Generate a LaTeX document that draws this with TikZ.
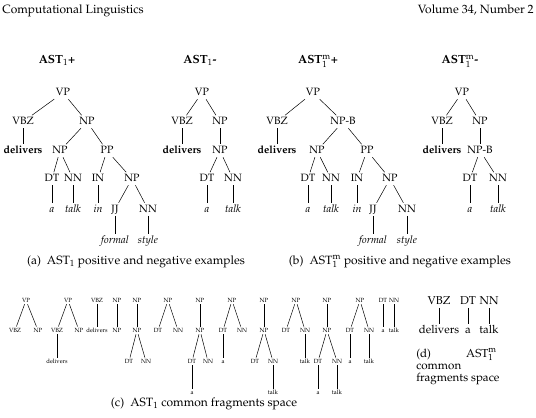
\documentclass[tikz,border=0pt]{standalone}
\usepackage[T1]{fontenc}
\usepackage{mathpazo}

\begin{document}
\begin{tikzpicture}[x = 1pt, y = -1pt,
  every node/.style = {inner sep = 1.5pt, anchor = base},
  cat/.style = {font = \fontsize{10.6}{12}\selectfont, text height = 7.5pt, text depth = 2pt},
  wrd/.style = {cat, font = \fontsize{10.6}{12}\selectfont\itshape},
  bwrd/.style = {cat, font = \fontsize{10.6}{12}\selectfont\bfseries},
  ttl/.style = {font = \fontsize{11.8}{13}\selectfont\bfseries},
  captext/.style = {font = \fontsize{12}{13}\selectfont},
  frag/.style = {font = \fontsize{6}{7}\selectfont, inner sep = 1pt, text height = 4.2pt, text depth = 1pt},
  bigcat/.style = {cat, font = \fontsize{11.4}{12}\selectfont},
  every path/.style = {line width = 0.5pt}]
\useasboundingbox (0, 0) rectangle (536, 418);

% running head
\node[anchor = base west, font = \fontsize{12}{13}\selectfont, inner sep = 0pt] (head-l) at (2, 13) {Computational Linguistics};
\node[anchor = base east, font = \fontsize{12}{13}\selectfont, inner sep = 0pt] (head-r) at (534, 13) {Volume 34, Number 2};

% (a) AST1 +
\node[ttl] (ap-title) at (57, 63.5) {AST$_1$+};
\node[cat] (ap-vp) at (63, 95.5) {VP};
\node[cat] (ap-vbz) at (23, 124.5) {VBZ};
\node[cat] (ap-np) at (87, 124.5) {NP};
\node[bwrd] (ap-del) at (23, 153.5) {delivers};
\node[cat] (ap-np2) at (60, 153.5) {NP};
\node[cat] (ap-pp) at (107, 153.5) {PP};
\node[cat] (ap-dt) at (52, 181.5) {DT};
\node[cat] (ap-nn) at (73, 181.5) {NN};
\node[cat] (ap-in) at (98, 181.5) {IN};
\node[cat] (ap-np3) at (132, 181.5) {NP};
\node[wrd] (ap-a) at (52, 212) {a};
\node[wrd] (ap-talk) at (73, 212) {talk};
\node[wrd] (ap-inw) at (98, 212) {in};
\node[cat] (ap-jj) at (115, 212) {JJ};
\node[cat] (ap-nn2) at (148, 212) {NN};
\node[wrd] (ap-formal) at (115, 243) {formal};
\node[wrd] (ap-style) at (148, 243) {style};
\draw (ap-vp) -- (ap-vbz);
\draw (ap-vp) -- (ap-np);
\draw (ap-vbz) -- (ap-del);
\draw (ap-np) -- (ap-np2);
\draw (ap-np) -- (ap-pp);
\draw (ap-np2) -- (ap-dt);
\draw (ap-np2) -- (ap-nn);
\draw (ap-pp) -- (ap-in);
\draw (ap-pp) -- (ap-np3);
\draw (ap-dt) -- (ap-a);
\draw (ap-nn) -- (ap-talk);
\draw (ap-in) -- (ap-inw);
\draw (ap-np3) -- (ap-jj);
\draw (ap-np3) -- (ap-nn2);
\draw (ap-jj) -- (ap-formal);
\draw (ap-nn2) -- (ap-style);

% (a) AST1 -
\node[ttl] (an-title) at (200, 63.5) {AST$_1$-};
\node[cat] (an-vp) at (202, 95.5) {VP};
\node[cat] (an-vbz) at (182, 124.5) {VBZ};
\node[cat] (an-np) at (220, 124.5) {NP};
\node[bwrd] (an-del) at (182, 153.5) {delivers};
\node[cat] (an-np2) at (220, 153.5) {NP};
\node[cat] (an-dt) at (207, 181.5) {DT};
\node[cat] (an-nn) at (233, 181.5) {NN};
\node[wrd] (an-a) at (207, 212) {a};
\node[wrd] (an-talk) at (233, 212) {talk};
\draw (an-vp) -- (an-vbz);
\draw (an-vp) -- (an-np);
\draw (an-vbz) -- (an-del);
\draw (an-np) -- (an-np2);
\draw (an-np2) -- (an-dt);
\draw (an-np2) -- (an-nn);
\draw (an-dt) -- (an-a);
\draw (an-nn) -- (an-talk);

% (b) AST1m +
\node[ttl] (bp-title) at (318, 63.5) {AST$^{\mathrm{m}}_1$+};
\node[cat] (bp-vp) at (313, 95.5) {VP};
\node[cat] (bp-vbz) at (277, 124.5) {VBZ};
\node[cat] (bp-npb) at (343, 124.5) {NP-B};
\node[bwrd] (bp-del) at (277, 153.5) {delivers};
\node[cat] (bp-np2) at (317, 153.5) {NP};
\node[cat] (bp-pp) at (367, 153.5) {PP};
\node[cat] (bp-dt) at (308, 181.5) {DT};
\node[cat] (bp-nn) at (331, 181.5) {NN};
\node[cat] (bp-in) at (357, 181.5) {IN};
\node[cat] (bp-np3) at (390, 181.5) {NP};
\node[wrd] (bp-a) at (308, 212) {a};
\node[wrd] (bp-talk) at (331, 212) {talk};
\node[wrd] (bp-inw) at (357, 212) {in};
\node[cat] (bp-jj) at (373, 212) {JJ};
\node[cat] (bp-nn2) at (407, 212) {NN};
\node[wrd] (bp-formal) at (373, 243) {formal};
\node[wrd] (bp-style) at (407, 243) {style};
\draw (bp-vp) -- (bp-vbz);
\draw (bp-vp) -- (bp-npb);
\draw (bp-vbz) -- (bp-del);
\draw (bp-npb) -- (bp-np2);
\draw (bp-npb) -- (bp-pp);
\draw (bp-np2) -- (bp-dt);
\draw (bp-np2) -- (bp-nn);
\draw (bp-pp) -- (bp-in);
\draw (bp-pp) -- (bp-np3);
\draw (bp-dt) -- (bp-a);
\draw (bp-nn) -- (bp-talk);
\draw (bp-in) -- (bp-inw);
\draw (bp-np3) -- (bp-jj);
\draw (bp-np3) -- (bp-nn2);
\draw (bp-jj) -- (bp-formal);
\draw (bp-nn2) -- (bp-style);

% (b) AST1m -
\node[ttl] (bn-title) at (460, 63.5) {AST$^{\mathrm{m}}_1$-};
\node[cat] (bn-vp) at (462, 95.5) {VP};
\node[cat] (bn-vbz) at (442, 124.5) {VBZ};
\node[cat] (bn-np) at (480, 124.5) {NP};
\node[bwrd] (bn-del) at (442, 153.5) {delivers};
\node[cat] (bn-npb) at (480, 153.5) {NP-B};
\node[cat] (bn-dt) at (470, 181.5) {DT};
\node[cat] (bn-nn) at (498, 181.5) {NN};
\node[wrd] (bn-a) at (470, 212) {a};
\node[wrd] (bn-talk) at (498, 212) {talk};
\draw (bn-vp) -- (bn-vbz);
\draw (bn-vp) -- (bn-np);
\draw (bn-vbz) -- (bn-del);
\draw (bn-np) -- (bn-npb);
\draw (bn-npb) -- (bn-dt);
\draw (bn-npb) -- (bn-nn);
\draw (bn-dt) -- (bn-a);
\draw (bn-nn) -- (bn-talk);

\node[captext] (cap-a) at (136, 264) {(a)\enspace AST$_1$ positive and negative examples};
\node[captext] (cap-b) at (400, 264) {(b)\enspace AST$^{\mathrm{m}}_1$ positive and negative examples};

% (c) fragments
\node[frag] (c1-vp) at (26, 302) {VP};
\node[frag] (c1-vbz) at (15, 332) {VBZ};
\node[frag] (c1-np) at (38, 332) {NP};
\draw (c1-vp) -- (c1-vbz);
\draw (c1-vp) -- (c1-np);

\node[frag] (c2-vp) at (68, 302) {VP};
\node[frag] (c2-vbz) at (57, 332) {VBZ};
\node[frag] (c2-np) at (79, 332) {NP};
\node[frag] (c2-del) at (57, 363) {delivers};
\draw (c2-vp) -- (c2-vbz);
\draw (c2-vp) -- (c2-np);
\draw (c2-vbz) -- (c2-del);

\node[frag] (c3-vbz) at (97, 302) {VBZ};
\node[frag] (c3-del) at (97, 332) {delivers};
\draw (c3-vbz) -- (c3-del);

\node[frag] (c4-np) at (117, 302) {NP};
\node[frag] (c4-np2) at (117, 332) {NP};
\draw (c4-np) -- (c4-np2);

\node[frag] (c5-np) at (137, 302) {NP};
\node[frag] (c5-np2) at (137, 332) {NP};
\node[frag] (c5-dt) at (129, 363) {DT};
\node[frag] (c5-nn) at (146, 363) {NN};
\draw (c5-np) -- (c5-np2);
\draw (c5-np2) -- (c5-dt);
\draw (c5-np2) -- (c5-nn);

\node[frag] (c6-np) at (168, 302) {NP};
\node[frag] (c6-dt) at (158, 332) {DT};
\node[frag] (c6-nn) at (178, 332) {NN};
\draw (c6-np) -- (c6-dt);
\draw (c6-np) -- (c6-nn);

\node[frag] (c7-np) at (200, 302) {NP};
\node[frag] (c7-np2) at (200, 332) {NP};
\node[frag] (c7-dt) at (192, 363) {DT};
\node[frag] (c7-nn) at (208, 363) {NN};
\node[frag] (c7-a) at (192, 394) {a};
\draw (c7-np) -- (c7-np2);
\draw (c7-np2) -- (c7-dt);
\draw (c7-np2) -- (c7-nn);
\draw (c7-dt) -- (c7-a);

\node[frag] (c8-np) at (232, 302) {NP};
\node[frag] (c8-dt) at (223, 332) {DT};
\node[frag] (c8-nn) at (242, 332) {NN};
\node[frag] (c8-a) at (223, 363) {a};
\draw (c8-np) -- (c8-dt);
\draw (c8-np) -- (c8-nn);
\draw (c8-dt) -- (c8-a);

\node[frag] (c9-np) at (264, 302) {NP};
\node[frag] (c9-np2) at (264, 332) {NP};
\node[frag] (c9-dt) at (255, 363) {DT};
\node[frag] (c9-nn) at (273, 363) {NN};
\node[frag] (c9-talk) at (273, 394) {talk};
\draw (c9-np) -- (c9-np2);
\draw (c9-np2) -- (c9-dt);
\draw (c9-np2) -- (c9-nn);
\draw (c9-nn) -- (c9-talk);

\node[frag] (c10-np) at (296, 302) {NP};
\node[frag] (c10-dt) at (286, 332) {DT};
\node[frag] (c10-nn) at (305, 332) {NN};
\node[frag] (c10-talk) at (305, 363) {talk};
\draw (c10-np) -- (c10-dt);
\draw (c10-np) -- (c10-nn);
\draw (c10-nn) -- (c10-talk);

\node[frag] (c11-np) at (327, 302) {NP};
\node[frag] (c11-np2) at (327, 332) {NP};
\node[frag] (c11-dt) at (318, 363) {DT};
\node[frag] (c11-nn) at (337, 363) {NN};
\node[frag] (c11-a) at (318, 394) {a};
\node[frag] (c11-talk) at (337, 394) {talk};
\draw (c11-np) -- (c11-np2);
\draw (c11-np2) -- (c11-dt);
\draw (c11-np2) -- (c11-nn);
\draw (c11-dt) -- (c11-a);
\draw (c11-nn) -- (c11-talk);

\node[frag] (c12-np) at (360, 302) {NP};
\node[frag] (c12-dt) at (350, 332) {DT};
\node[frag] (c12-nn) at (369, 332) {NN};
\node[frag] (c12-a) at (350, 363) {a};
\node[frag] (c12-talk) at (369, 363) {talk};
\draw (c12-np) -- (c12-dt);
\draw (c12-np) -- (c12-nn);
\draw (c12-dt) -- (c12-a);
\draw (c12-nn) -- (c12-talk);

\node[frag] (c13-dt) at (383, 302) {DT};
\node[frag] (c13-nn) at (394, 302) {NN};
\node[frag] (c13-a) at (383, 332) {a};
\node[frag] (c13-talk) at (394, 332) {talk};
\draw (c13-dt) -- (c13-a);
\draw (c13-nn) -- (c13-talk);

\node[captext] (cap-c) at (204, 406) {(c)\enspace AST$_1$ common fragments space};

% (d) fragments
\node[bigcat] (d-vbz) at (439, 304) {VBZ};
\node[bigcat] (d-dt) at (468, 304) {DT};
\node[bigcat] (d-nn) at (489, 304) {NN};
\node[bigcat] (d-del) at (439, 333) {delivers};
\node[bigcat] (d-a) at (468, 333) {a};
\node[bigcat] (d-talk) at (489, 333) {talk};
\draw (d-vbz) -- (d-del);
\draw (d-dt) -- (d-a);
\draw (d-nn) -- (d-talk);

\node[captext, font = \fontsize{11.6}{13}\selectfont, anchor = base west, inner sep = 0pt] (cap-d1) at (416, 357) {(d)};
\node[captext, font = \fontsize{11.6}{13}\selectfont, anchor = base east, inner sep = 0pt] (cap-d2) at (497, 357) {AST$^{\mathrm{m}}_1$};
\node[captext, font = \fontsize{11.6}{13}\selectfont, anchor = base west, inner sep = 0pt] (cap-d3) at (416, 369) {common};
\node[captext, font = \fontsize{11.6}{13}\selectfont, anchor = base west, inner sep = 0pt] (cap-d4) at (416, 381) {fragments space};
\end{tikzpicture}
\end{document}
